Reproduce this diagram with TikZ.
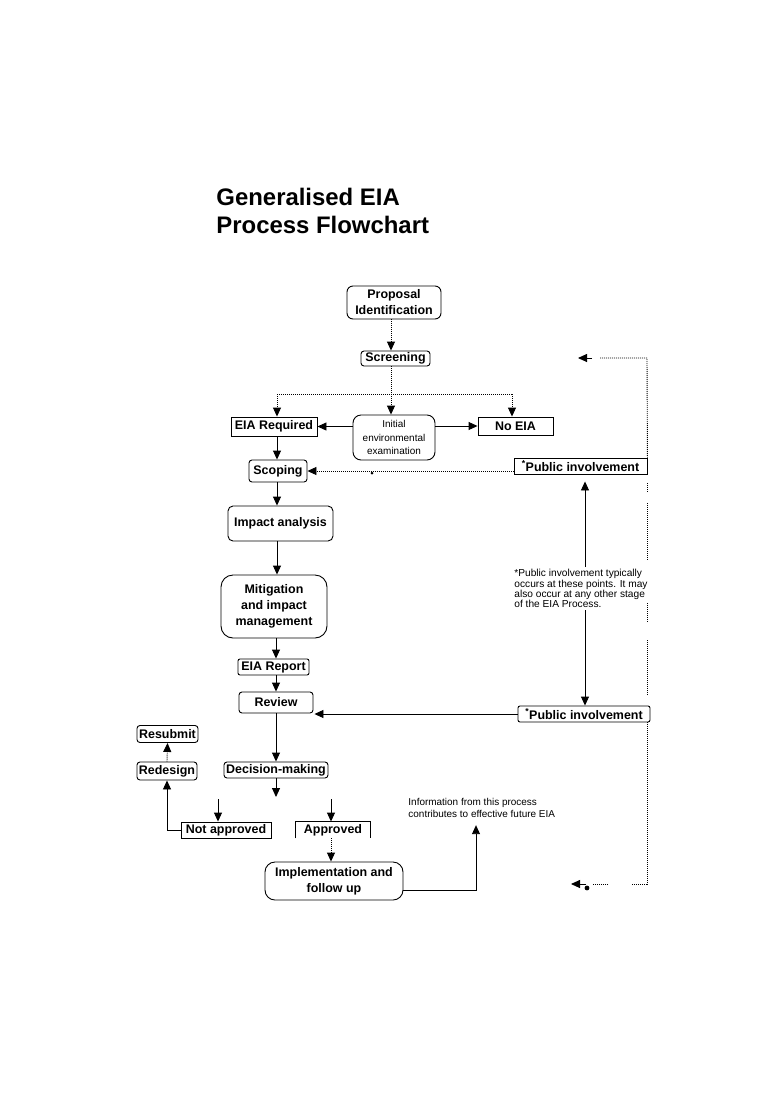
\documentclass[tikz,border=0pt]{standalone}
\usepackage{fontspec}
\setmainfont{Liberation Sans}
\usetikzlibrary{arrows.meta,calc}
\begin{document}
\begin{tikzpicture}[x=1bp,y=-1bp,
  line width=0.9bp,
  box/.style={draw, line width=0.9bp, inner sep=0pt, align=center,
              font=\fontsize{12.5}{16}\selectfont\bfseries},
  rbox/.style={box, rounded corners=3bp},
  plain/.style={inner sep=0pt, align=center, font=\fontsize{12.5}{16}\selectfont\bfseries},
  small/.style={inner sep=0pt, align=left, font=\fontsize{10.2}{10.3}\selectfont},
  arr/.style={-{Triangle[length=9bp,width=8bp]}, line width=0.9bp},
  darr/.style={arr, dash pattern=on 1bp off 1bp},
  dline/.style={line width=0.9bp, dash pattern=on 1bp off 1bp},
  ttl/.style={anchor=base west, inner sep=0pt, font=\fontsize{24}{28}\selectfont\bfseries}
]
\useasboundingbox (0,0) rectangle (781,1100);
\fill[white] (0,0) rectangle (781,1100);

% title
\node[ttl] (t1) at (216,205) {Generalised EIA};
\node[ttl] (t2) at (216,233) {Process Flowchart};

% nodes
\node[rbox, rounded corners=6bp, minimum width=94bp, minimum height=33bp] (prop) at (394,302.5) {Proposal\\Identification};
\node[rbox, minimum width=69bp, minimum height=15bp] (scr) at (395.5,358.5) {Screening};
\node[box, minimum width=86bp, minimum height=19bp] (eiareq) at (274,426.5) {EIA Required};
\node[rbox, rounded corners=8bp, minimum width=82bp, minimum height=45bp,
      font=\fontsize{10}{13.5}\selectfont] (iee) at (394,437.5) {Initial\\environmental\\examination};
\node[box, minimum width=75bp, minimum height=18bp] (noeia) at (515.5,426) {No EIA};
\node[rbox, minimum width=58bp, minimum height=22bp] (scop) at (278,471) {Scoping};
\node[box, minimum width=133bp, minimum height=16bp] (pi1) at (580.5,466) {\textsuperscript{*}Public involvement};
\node[rbox, rounded corners=5bp, minimum width=105bp, minimum height=35bp] (imp) at (280.5,523.5) {Impact analysis};
\node[rbox, rounded corners=12bp, minimum width=106bp, minimum height=63bp] (mit) at (274,606.5) {Mitigation\\and impact\\management};
\node[rbox, rounded corners=2bp, minimum width=71bp, minimum height=16bp] (rep) at (273.5,667) {EIA Report};
\node[rbox, minimum width=74bp, minimum height=21bp] (rev) at (276,702.5) {Review};
\node[rbox, rounded corners=2bp, minimum width=132bp, minimum height=16bp] (pi2) at (584,714) {\textsuperscript{*}Public involvement};
\node[small, anchor=north west] (note) at (514,569) {*Public involvement typically\\occurs at these points. It may\\also occur at any other stage\\of the EIA Process.};
\node[rbox, minimum width=61bp, minimum height=17bp] (resub) at (167.5,734) {Resubmit};
\node[rbox, minimum width=60bp, minimum height=18bp] (redes) at (167,771) {Redesign};
\node[rbox, minimum width=104bp, minimum height=16bp] (dec) at (276,770) {Decision-making};
\node[box, minimum width=90bp, minimum height=16bp] (notapp) at (226,830) {Not approved};
\node[plain, minimum width=74bp, minimum height=16bp] (appr) at (333,830) {Approved};
\node[rbox, rounded corners=10bp, minimum width=138bp, minimum height=38bp] (impl) at (334,881) {Implementation and\\follow up};
\node[small, anchor=north west, font=\fontsize{10}{12}\selectfont] (info) at (408,798) {Information from this process\\contributes to effective future EIA};

% open box of Approved
\draw (appr.south west) -- (appr.north west) -- (appr.north east) -- (appr.south east);

% coordinates
\coordinate (br) at (391,394);
\coordinate (brl) at (277,394);
\coordinate (brr) at (512,394);
\coordinate (vx) at (585,0);
\coordinate (na0) at (218,799);
\coordinate (ap0) at (331,799);
\coordinate (decend) at (276,797);
\coordinate (iup) at (476,0);
\coordinate (ie) at ($(impl.east)+(0,9)$);

% top flow
\draw[darr] (prop.south -| br) -- (scr.north -| br);
\draw[dline] (scr.south -| br) -- (br);
\draw[dline] (brl) -- (brr);
\draw[darr] (brl) -- (brl |- eiareq.north);
\draw[darr] (br) -- (br |- iee.north);
\draw[darr] (brr) -- (brr |- noeia.north);
\draw[arr] (iee.west |- eiareq.east) -- (eiareq.east);
\draw[arr] (iee.east |- noeia.west) -- (noeia.west);
\draw[arr] (eiareq.south -| brl) -- (brl |- scop.north);
\draw[darr] (pi1.west |- scop.east) -- (scop.east);
\draw[arr] (brl |- scop.south) -- (brl |- imp.north);
\draw[arr] (brl |- imp.south) -- (brl |- mit.north);
\draw[arr] (276,0 |- mit.south) -- (276,0 |- rep.north);
\draw[arr] (276,0 |- rep.south) -- (276,0 |- rev.north);

% public involvement links
\draw[arr, shorten >=7bp] ($(note.north -| vx)+(0,-2)$) -- (pi1.south -| vx);
\draw[arr] ($(note.south -| vx)+(0,2)$) -- (pi2.north -| vx);
\draw[arr, shorten >=1bp] (pi2.west) -- (rev.east |- pi2.west);

% decision
\draw[arr] (rev.south) -- (rev.south |- dec.north);
\draw[arr] (dec.south -| decend) -- (decend);
\draw[arr] (na0) -- (na0 |- notapp.north);
\draw[arr] (ap0) -- (ap0 |- appr.north);
\draw[arr] (notapp.west) -| (redes.south);
\draw[darr] (redes.north) -- (resub.south);
\draw[darr] (ap0 |- appr.south) -- (ap0 |- impl.north);
\draw[arr, shorten >=7bp] (ie) -| (info.south -| iup);

% right dotted loop
\coordinate (rt) at (647,358);
\coordinate (rb) at (647,884);
\coordinate (ra1) at (592,358);
\coordinate (ra2) at (578,358);
\coordinate (rb1) at (586,884);
\coordinate (rb2) at (571,884);
\draw[arr] (ra1) -- (ra2);
\draw[arr] (rb1) -- (rb2);
\draw[dline] (600,358) -- (rt) -- (pi1.north east);
\draw[dline] (647,483) -- (647,492);
\draw[dline] (647,503) -- (647,560);
\draw[dline] (647,603) -- (647,622);
\draw[dline] (647,640) -- (647,695);
\draw[dline] (647,722) -- (rb) -- (632,884);
\draw[dline] (608,884) -- (593,884);
\fill (587,888) circle (2.4bp);
\fill (372,473) circle (1.5bp);
\end{tikzpicture}
\end{document}
